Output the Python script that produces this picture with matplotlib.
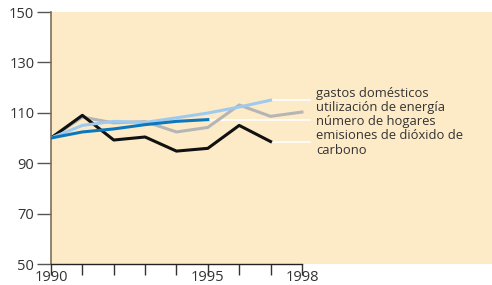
import matplotlib
matplotlib.use("Agg")
import matplotlib.pyplot as plt

plt.rcParams['font.family'] = ['Open Sans', 'DejaVu Sans']

years = [1990, 1991, 1992, 1993, 1994, 1995, 1996, 1997, 1998]

# series values (index, 1990 = 100)
gastos = [100, 105, 106.6, 106.2, 108, 109.9, 112.3, 115]
utilizacion = [100, 108.3, 106, 106.5, 102.4, 104.2, 113.1, 108.6, 110.3]
hogares = [100, 102.4, 103.6, 105.3, 106.6, 107.3]
emisiones = [100, 109, 99.2, 100.4, 94.8, 95.9, 105, 98.6]

labels = ["gastos domésticos", "utilización de energía", "número de hogares",
          "emisiones de dióxido de", "carbono"]
label_y = [117.5, 112.0, 106.6, 100.9, 95.2]

yticks = [50, 70, 90, 110, 130, 150]
xticklabels = {1990: "1990", 1995: "1995", 1998: "1998"}

bg = "#fdebc8"

fig = plt.figure(figsize=(4.92, 2.85), dpi=100)
ax = fig.add_axes([51 / 492, 21 / 285, 441 / 492, 252 / 285])
ax.set_facecolor(bg)
ax.set_xlim(1990, 2004.06)
ax.set_ylim(50, 150)

# white leader lines from line ends to labels
x_lab = 1990 + (310 - 51) / 31.375
ax.plot([years[len(gastos) - 1], x_lab], [gastos[-1], gastos[-1]], color="white", lw=1.2, zorder=1)
ax.plot([years[len(hogares) - 1], x_lab], [hogares[-1], hogares[-1]], color="white", lw=1.2, zorder=1)
ax.plot([years[len(emisiones) - 1], x_lab], [emisiones[-1], emisiones[-1]], color="white", lw=1.2, zorder=1)

ax.plot(years[:len(utilizacion)], utilizacion, color="#b5b5b5", lw=2.2, zorder=2)
ax.plot(years[:len(emisiones)], emisiones, color="#111111", lw=2.2, zorder=3)
ax.plot(years[:len(gastos)], gastos, color="#9fcaf0", lw=2.2, zorder=4)
ax.plot(years[:len(hogares)], hogares, color="#0b78be", lw=2.2, zorder=5)

x_text = 1990 + (316 - 51) / 31.375
for lab, yy in zip(labels, label_y):
    ax.text(x_text, yy, lab, fontsize=9.4, color="#333333", va="center", ha="left")

for s in ["top", "right"]:
    ax.spines[s].set_visible(False)
ax.spines["left"].set_color("#7d6e5c")
ax.spines["left"].set_linewidth(1.2)
ax.spines["bottom"].set_color("#222222")
ax.spines["bottom"].set_linewidth(1.0)
ax.spines["bottom"].set_bounds(1990, 1998)

ax.set_yticks(yticks)
ax.set_yticklabels([str(v) for v in yticks])
ax.set_xticks(years)
ax.set_xticklabels([xticklabels.get(y, "") for y in years])
ax.tick_params(axis="y", length=10, width=1, color="#555555", pad=2,
               labelsize=10.5, labelcolor="#333333")
ax.tick_params(axis="x", length=8, width=1, color="#333333", pad=-4,
               labelsize=10.5, labelcolor="#333333")

fig.savefig("out.png", dpi=100, facecolor="white")
